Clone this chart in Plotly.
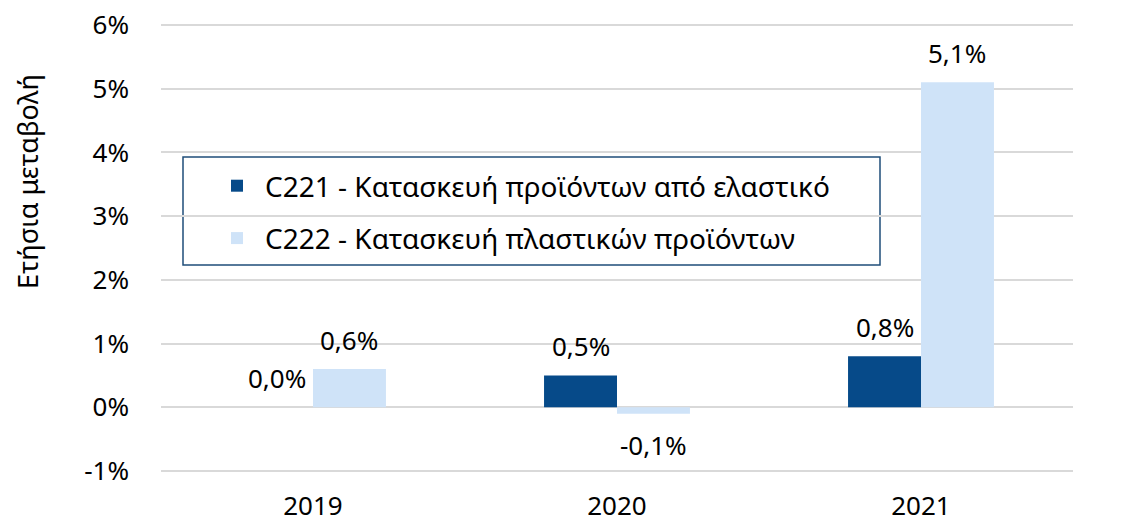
import plotly.graph_objects as go

categories = ["2019", "2020", "2021"]
series_names = ["C221 - Κατασκευή προϊόντων από ελαστικό",
                "C222 - Κατασκευή πλαστικών προϊόντων"]
c221 = [0.0, 0.5, 0.8]
c222 = [0.6, -0.1, 5.1]
colors = ["#064A89", "#CFE3F8"]
y_ticks = [-1, 0, 1, 2, 3, 4, 5, 6]
y_ticktext = ["-1%", "0%", "1%", "2%", "3%", "4%", "5%", "6%"]
y_title = "Ετήσια μεταβολή"

FONT = "Noto Sans"
W, H = 1129, 517
L, R, T, B = 153, 64, 15, 52
PW = W - L - R
PH = H - T - B

fig = go.Figure()
for name, vals, col, grp in zip(series_names, [c221, c222], colors, ["a", "b"]):
    fig.add_trace(go.Bar(x=categories, y=vals, name=name, marker=dict(color=col, line=dict(width=0)),
                         legendgroup=grp))

# data labels
offsets = [-0.5, 0.5]
for vals, off in zip([c221, c222], offsets):
    for i, v in enumerate(vals):
        fig.add_annotation(x=i + off * 0.24, y=v, xref="x", yref="y",
                           text=f"{v:.1f}%".replace(".", ","),
                           showarrow=False,
                           yanchor="bottom" if v >= 0 else "top",
                           yshift=9 if v >= 0 else -11,
                           font=dict(family=FONT, size=26, color="#000000"))

# y-axis title
fig.add_annotation(x=(19 - L) / PW, xref="paper", y=(465 - 174) / PH, yref="paper",
                   text=y_title, textangle=-90,
                   showarrow=False, xanchor="center", yanchor="middle",
                   font=dict(family=FONT, size=27, color="#000000"))

# legend frame
fig.add_shape(type="rect", xref="paper", yref="paper",
              x0=(175 - L) / PW, x1=(872 - L) / PW,
              y0=(465 - 257) / PH, y1=(465 - 149) / PH,
              line=dict(color="#1F4E79", width=1.5), fillcolor="white", layer="below")

fig.update_layout(
    width=W, height=H,
    margin=dict(l=L, r=R, t=T, b=B, autoexpand=False),
    paper_bgcolor="white", plot_bgcolor="white",
    barmode="group", bargap=0.52, bargroupgap=0,
    font=dict(family=FONT, size=26, color="#000000"),
    showlegend=True,
    legend=dict(x=(201 - L) / PW, y=(465 - 153) / PH, xanchor="left", yanchor="top",
                bgcolor="rgba(0,0,0,0)",
                font=dict(family=FONT, size=28), traceorder="grouped", tracegroupgap=13,
                itemwidth=46),
    xaxis=dict(type="category", showgrid=False, showline=False, ticks="", automargin=False,
               ticklabelstandoff=15, tickfont=dict(family=FONT, size=26)),
    yaxis=dict(range=[-1.032, 6.032], tickvals=y_ticks, ticktext=y_ticktext, showgrid=True,
               gridcolor="#D9D9D9", gridwidth=1.5, zeroline=True, zerolinecolor="#D9D9D9",
               zerolinewidth=1.5, showline=False, ticks="", ticklabelstandoff=31,
               ticklabeloverflow="allow",
               automargin=False, tickfont=dict(family=FONT, size=26)),
)
fig.write_html("out.html")
